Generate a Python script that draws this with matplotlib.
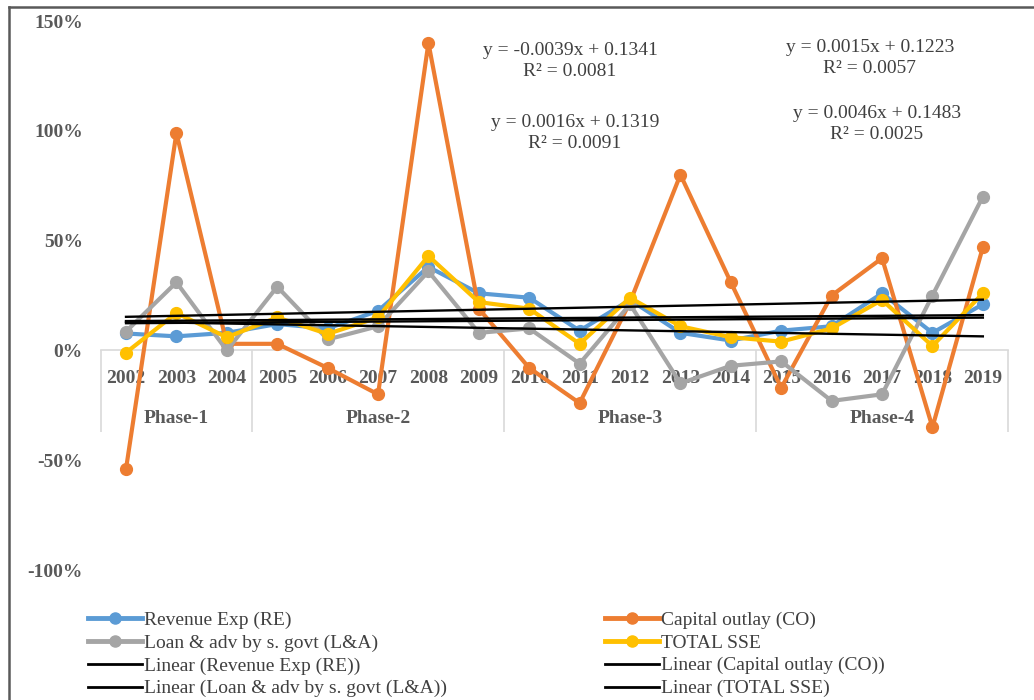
import numpy as np
import matplotlib.pyplot as plt
from matplotlib.lines import Line2D

plt.rcParams['font.family'] = ['Liberation Serif', 'DejaVu Serif']

# growth rates (%)
YEARS = [str(y) for y in range(2002, 2020)]
PHASES = ["Phase-1", "Phase-2", "Phase-3", "Phase-4"]
PHASE_SIZES = [3, 5, 5, 5]

RE = [7.7, 6.4, 8, 12, 10, 18, 38, 26, 24, 9, 23, 8, 4.5, 9, 11, 26, 8, 21]
CO = [-54, 99, 3, 3, -8, -20, 140, 19, -8, -24, 22, 80, 31, -17, 25, 42, -35, 47]
LA = [8.6, 31, 0, 29, 5, 11, 36, 8, 10, -6, 21, -15, -7, -5, -23, -20, 25, 70]
TOTAL = [-1, 17, 6, 15, 7.5, 15, 43, 22, 19, 3, 24, 11, 6, 4, 10, 23, 2, 26]

NAMES = ["Revenue Exp (RE)", "Capital outlay (CO)",
         "Loan & adv by s. govt (L&A)", "TOTAL SSE"]
COLORS = ["#5B9BD5", "#ED7D31", "#A5A5A5", "#FFC000"]

# excel linear trendlines (x = 1..18), fraction units
SLOPES = [0.0016, 0.0046, -0.0039, 0.0015]
INTERCEPTS = [0.1319, 0.1483, 0.1341, 0.1223]
R2 = [0.0091, 0.0025, 0.0081, 0.0057]

TXT = "#404040"
TICK = "#595959"

fig = plt.figure(figsize=(10.34, 7), dpi=100)
ax = fig.add_axes([0.0975, 0.1857, 0.8774, 0.7843])

x = np.arange(len(YEARS))
series = [RE, CO, LA, TOTAL]
handles = []
for vals, c in zip(series, COLORS):
    ax.plot(x, vals, color=c, lw=3, marker='o', ms=8.5, zorder=3, clip_on=False)
    handles.append(Line2D([], [], color=c, lw=3.5, marker='o', ms=8))

trend_handles = []
for a, b in zip(SLOPES, INTERCEPTS):
    ax.plot(x, (a * (x + 1) + b) * 100, color='black', lw=1.7, zorder=4)
    trend_handles.append(Line2D([], [], color='black', lw=2))

# equation labels (LA, RE on the left; TOTAL, CO on the right)
label_pos = {2: (8.81, 131.8), 0: (8.91, 99.1), 3: (14.76, 133.2), 1: (14.9, 103.2)}
for i, (px, py) in label_pos.items():
    ax.text(px, py, "y = {:.4f}x + {:.4f}\nR² = {:.4f}".format(SLOPES[i], INTERCEPTS[i], R2[i]),
            ha='center', va='center', multialignment='center', fontsize=14,
            color=TXT, linespacing=1.3, zorder=5)

ax.set_xlim(-0.5, 17.5)
ax.set_ylim(-100, 150)
for s in ax.spines.values():
    s.set_visible(False)
ax.set_xticks([])
ax.set_yticks([-100, -50, 0, 50, 100, 150])
ax.set_yticklabels(["{}%".format(v) for v in [-100, -50, 0, 50, 100, 150]],
                   fontsize=14, fontweight='bold', color=TICK)
ax.tick_params(axis='y', length=0, pad=13)

# multi-level category axis
ax.plot([-0.5, 17.5], [0, 0], color='#d9d9d9', lw=1.2, clip_on=False, zorder=1)
bounds = np.cumsum([0] + PHASE_SIZES) - 0.5
ax.vlines(bounds, -37.3, 0, color='#d9d9d9', lw=1.2, clip_on=False, zorder=1)
for i, yr in enumerate(YEARS):
    ax.text(i, -12.7, yr, ha='center', va='center', fontsize=14,
            fontweight='bold', color=TICK, zorder=1)
for k, ph in enumerate(PHASES):
    ax.text((bounds[k] + bounds[k + 1]) / 2, -31, ph, ha='center', va='center',
            fontsize=14, fontweight='bold', color=TICK, zorder=1)

# legend in two columns
left = [handles[0], handles[2], trend_handles[0], trend_handles[2]]
left_lbl = [NAMES[0], NAMES[2], "Linear ({})".format(NAMES[0]), "Linear ({})".format(NAMES[2])]
right = [handles[1], handles[3], trend_handles[1], trend_handles[3]]
right_lbl = [NAMES[1], NAMES[3], "Linear ({})".format(NAMES[1]), "Linear ({})".format(NAMES[3])]
common = dict(loc='upper left', frameon=False, handlelength=2.8, handletextpad=0.1,
              borderpad=0, borderaxespad=0, labelspacing=0.27, fontsize=14,
              labelcolor=TXT, numpoints=1)
fig.legend(left, left_lbl, bbox_to_anchor=(88 / 1034, 1 - 611 / 700), **common)
fig.legend(right, right_lbl, bbox_to_anchor=(605 / 1034, 1 - 611 / 700), **common)

# outer frame of the pasted chart
fig.add_artist(Line2D([9 / 1034, 1], [1 - 7 / 700] * 2, transform=fig.transFigure,
                      color=TICK, lw=1.8))
fig.add_artist(Line2D([9 / 1034] * 2, [0, 1 - 7 / 700], transform=fig.transFigure,
                      color=TICK, lw=1.8))

fig.savefig("out.png", dpi=100)
